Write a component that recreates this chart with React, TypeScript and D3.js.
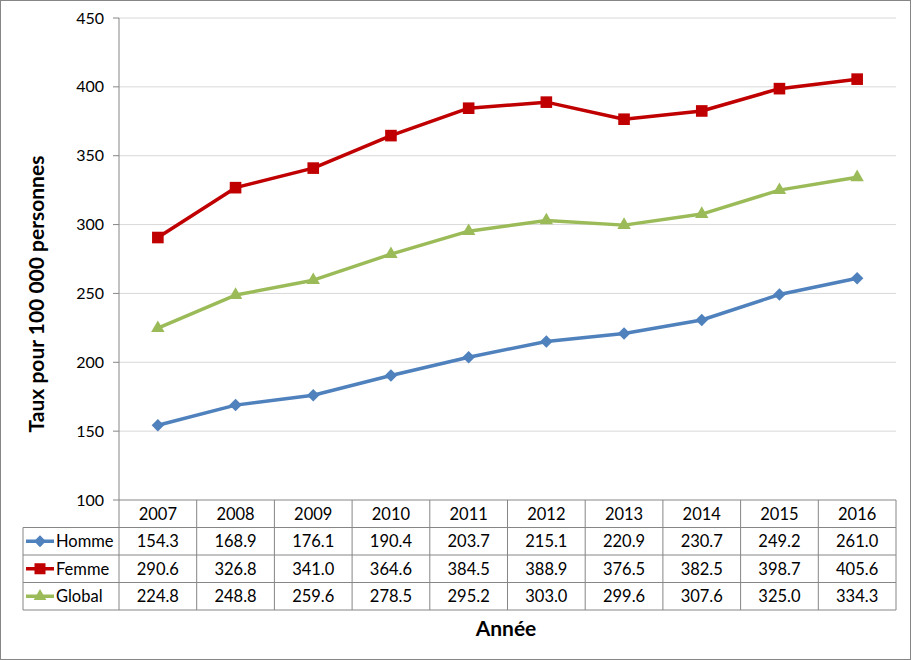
import React from 'react'
import * as d3 from 'd3'

const years = ['2007', '2008', '2009', '2010', '2011', '2012', '2013', '2014', '2015', '2016']
const homme = [154.3, 168.9, 176.1, 190.4, 203.7, 215.1, 220.9, 230.7, 249.2, 261.0]
const femme = [290.6, 326.8, 341.0, 364.6, 384.5, 388.9, 376.5, 382.5, 398.7, 405.6]
const global = [224.8, 248.8, 259.6, 278.5, 295.2, 303.0, 299.6, 307.6, 325.0, 334.3]
const yTicks = [100, 150, 200, 250, 300, 350, 400, 450]

const W = 912
const H = 660
const plot = {left: 119, right: 896, top: 18, bottom: 500}
const rowH = 27.5
const labelLeft = 23
const font = 'Lato, Calibri, sans-serif'
const gridColor = '#d9d9d9'
const axisColor = '#868686'

// rotate: diamond is a square turned 45 degrees
const series = [
    {name: 'Homme', values: homme, color: '#4f81bd', symbol: d3.symbolSquare, size: 78, rotate: 45},
    {name: 'Femme', values: femme, color: '#c00000', symbol: d3.symbolSquare, size: 135, rotate: 0},
    {name: 'Global', values: global, color: '#9bbb59', symbol: d3.symbolTriangle, size: 78, rotate: 0},
]

export default function App() {

    const x = d3.scaleBand().domain(years).range([plot.left, plot.right])
    const y = d3.scaleLinear().domain([100, 450]).range([plot.bottom, plot.top])
    const cx = (yr: string) => (x(yr) as number) + x.bandwidth() / 2

    const line = d3.line<number>()
                    .x((d, i) => cx(years[i]))
                    .y(d => y(d))

    const tableBottom = plot.bottom + rowH * 4

    return (
        <svg width={W} height={H} style={{position: 'absolute', left: 0, top: 0, background: '#fff'}} fontFamily={font}>
            <rect x={0.5} y={0.5} width={910} height={659} fill="#fff" stroke={axisColor} />

            {/* grid */}
            {yTicks.slice(1).map(t => (
                <line key={t} x1={plot.left} x2={plot.right} y1={y(t)} y2={y(t)} stroke={gridColor} strokeWidth={1} />
            ))}

            {/* y axis */}
            <line x1={plot.left} x2={plot.left} y1={plot.top} y2={plot.bottom} stroke={axisColor} />
            {yTicks.map(t => (
                <g key={t}>
                    <line x1={plot.left - 6} x2={plot.left} y1={y(t)} y2={y(t)} stroke={axisColor} />
                    <text x={plot.left - 15} y={y(t)} dy="0.35em" textAnchor="end" fontSize={16} fill="#000">{t}</text>
                </g>
            ))}

            {/* lines */}
            {series.map(s => (
                <g key={s.name}>
                    <path d={line(s.values) || ''} fill="none" stroke={s.color} strokeWidth={3.5} strokeLinejoin="round" />
                    {s.values.map((v, i) => (
                        <path key={i} d={d3.symbol().type(s.symbol).size(s.size)() || ''}
                              transform={`translate(${cx(years[i])},${y(v)}) rotate(${s.rotate})`} fill={s.color} />
                    ))}
                </g>
            ))}

            {/* data table */}
            <g stroke={axisColor} strokeWidth={1} fill="none">
                <line x1={plot.left} x2={plot.right} y1={plot.bottom} y2={plot.bottom} />
                {[1, 2, 3, 4].map(r => (
                    <line key={r} x1={labelLeft} x2={plot.right} y1={plot.bottom + r * rowH} y2={plot.bottom + r * rowH} />
                ))}
                <line x1={labelLeft} x2={labelLeft} y1={plot.bottom + rowH} y2={tableBottom} />
                {years.map(yr => (
                    <line key={yr} x1={x(yr)} x2={x(yr)} y1={plot.bottom} y2={tableBottom} />
                ))}
                <line x1={plot.right} x2={plot.right} y1={plot.bottom} y2={tableBottom} />
            </g>
            {years.map(yr => (
                <text key={yr} x={cx(yr)} y={plot.bottom + rowH / 2} dy="0.35em" textAnchor="middle" fontSize={16.5}>{yr}</text>
            ))}
            {series.map((s, r) => {
                const ry = plot.bottom + rowH * (r + 1) + rowH / 2
                return (
                    <g key={s.name}>
                        <line x1={labelLeft + 3} x2={labelLeft + 31} y1={ry} y2={ry} stroke={s.color} strokeWidth={3.5} />
                        <path d={d3.symbol().type(s.symbol).size(s.size * 0.9)() || ''}
                              transform={`translate(${labelLeft + 17},${ry}) rotate(${s.rotate})`} fill={s.color} />
                        <text x={labelLeft + 33} y={ry} dy="0.35em" fontSize={16.5}>{s.name}</text>
                        {s.values.map((v, i) => (
                            <text key={i} x={cx(years[i])} y={ry} dy="0.35em" textAnchor="middle" fontSize={16.5}>{v.toFixed(1)}</text>
                        ))}
                    </g>
                )
            })}

            {/* axis titles */}
            <text transform="translate(37,294) rotate(-90)" dy="0.35em" textAnchor="middle"
                  fontSize={21} fontWeight="bold">Taux pour 100 000 personnes</text>
            <text x={506} y={636} textAnchor="middle" fontSize={21} fontWeight="bold">Année</text>
        </svg>
    )
}
